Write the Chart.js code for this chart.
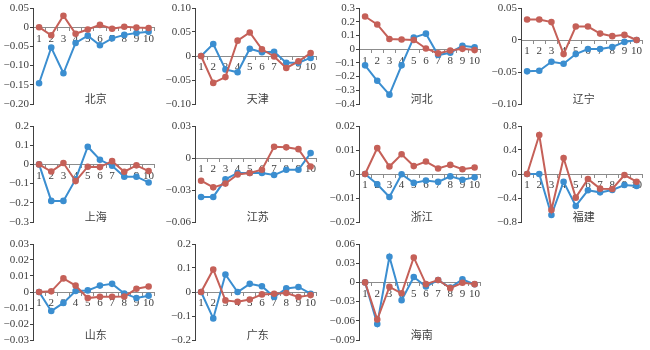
<!DOCTYPE html>
<html><head><meta charset="utf-8">
<script src="https://cdn.jsdelivr.net/npm/chart.js@4.4.1/dist/chart.umd.min.js"></script>
<style>
html,body{margin:0;padding:0;background:#fff;width:650px;height:350px;overflow:hidden;position:relative}
canvas{position:absolute}
</style></head><body>
<script>
const categories = ['1','2','3','4','5','6','7','8','9','10'];
const panelNames = ['北京','天津','河北','辽宁','上海','江苏','浙江','福建','山东','广东','海南'];

const blueBeijing   = [-0.146, -0.053, -0.120, -0.041, -0.022, -0.047, -0.029, -0.020, -0.015, -0.012];
const redBeijing    = [0, -0.021, 0.030, -0.017, -0.006, 0.006, -0.004, 0.001, -0.001, -0.002];
const blueTianjin   = [0, 0.025, -0.028, -0.034, 0.015, 0.008, 0.009, -0.014, -0.014, -0.004];
const redTianjin    = [0, -0.056, -0.044, 0.032, 0.049, 0.014, -0.001, -0.025, -0.011, 0.006];
const blueHebei     = [-0.118, -0.231, -0.332, -0.118, 0.084, 0.113, -0.043, -0.026, 0.024, 0.014];
const redHebei      = [0.238, 0.180, 0.074, 0.070, 0.067, 0.005, -0.031, -0.010, 0.002, -0.007];
const blueLiaoning  = [-0.049, -0.048, -0.034, -0.037, -0.022, -0.014, -0.014, -0.011, -0.003, 0];
const redLiaoning   = [0.032, 0.032, 0.028, -0.022, 0.021, 0.021, 0.010, 0.006, 0.008, 0];
const blueShanghai  = [0, -0.19, -0.19, -0.078, 0.092, 0.024, -0.007, -0.064, -0.064, -0.094];
const redShanghai   = [0, -0.037, 0.007, -0.087, -0.012, -0.014, 0.017, -0.038, -0.005, -0.035];
const blueJiangsu   = [-0.0365, -0.0365, -0.020, -0.014, -0.014, -0.014, -0.016, -0.011, -0.011, 0.0046];
const redJiangsu    = [-0.0213, -0.0275, -0.024, -0.0155, -0.014, -0.011, 0.0105, 0.010, 0.0083, -0.008];
const blueZhejiang  = [0, -0.0043, -0.0096, -0.0001, -0.0037, -0.0027, -0.0033, -0.001, -0.0024, -0.0014];
const redZhejiang   = [0, 0.0108, 0.0031, 0.0082, 0.0033, 0.0052, 0.0023, 0.0038, 0.002, 0.0027];
const blueFujian    = [0, 0, -0.683, -0.128, -0.533, -0.272, -0.306, -0.267, -0.183, -0.2];
const redFujian     = [0, 0.65, -0.60, 0.267, -0.394, -0.083, -0.244, -0.25, -0.017, -0.128];
const blueShandong  = [0, -0.0119, -0.0068, 0.0006, 0.001, 0.004, 0.0051, -0.0009, -0.0038, -0.0023];
const redShandong   = [0, 0.0004, 0.0085, 0.004, -0.0038, -0.003, -0.003, -0.0028, 0.002, 0.0034];
const blueGuangdong = [0, -0.11, 0.073, 0, 0.034, 0.024, -0.021, 0.015, 0.021, -0.007];
const redGuangdong  = [0, 0.094, -0.035, -0.041, -0.031, -0.010, -0.007, -0.004, -0.021, -0.013];
const blueHainan    = [0, -0.065, 0.040, -0.028, 0.0085, -0.0064, 0.0037, -0.008, 0.0048, -0.003];
const redHainan     = [0, -0.058, -0.007, -0.017, 0.039, -0.0027, 0.0037, -0.009, -0.0005, -0.0027];

const yMin = [-0.20, -0.10, -0.4, -0.10, -0.3, -0.06, -0.02, -0.8, -0.03, -0.2, -0.09];
const yMax = [0.05, 0.10, 0.3, 0.05, 0.2, 0.03, 0.02, 0.8, 0.03, 0.2, 0.06];
const yStep = [0.05, 0.05, 0.1, 0.05, 0.1, 0.03, 0.01, 0.4, 0.01, 0.1, 0.03];
const yDecimals = [2, 2, 1, 2, 1, 2, 2, 1, 2, 1, 2];

const blueList = [blueBeijing, blueTianjin, blueHebei, blueLiaoning, blueShanghai, blueJiangsu, blueZhejiang, blueFujian, blueShandong, blueGuangdong, blueHainan];
const redList = [redBeijing, redTianjin, redHebei, redLiaoning, redShanghai, redJiangsu, redZhejiang, redFujian, redShandong, redGuangdong, redHainan];

const BLUE = '#3B8ED0', RED = '#C56058';
const colAxisX = [33.3, 195.3, 358.8, 520.8];
const rowTop = [8, 126, 244];
const AXW = 40, CW = 166, CH = 118, PT = 8, PLOT_H = 96;

const titlePlugin = {
  id: 'panelTitle',
  afterDraw(chart, args, opts) {
    const {ctx, chartArea} = chart;
    ctx.save();
    ctx.font = '11px "Noto Sans CJK SC", sans-serif';
    ctx.fillStyle = '#404040';
    ctx.textAlign = 'center';
    ctx.textBaseline = 'middle';
    ctx.fillText(opts.text, (chartArea.left + chartArea.right) / 2 + 2, chartArea.bottom - 5);
    ctx.restore();
  }
};

function fmt(v, d) {
  if (Math.abs(v) < 1e-9) return '0';
  return (v < 0 ? '\u2212' : '') + Math.abs(v).toFixed(d);
}

panelNames.forEach((name, i) => {
  const col = i % 4, row = Math.floor(i / 4);
  const cv = document.createElement('canvas');
  cv.width = CW; cv.height = CH;
  cv.style.width = CW + 'px'; cv.style.height = CH + 'px';
  cv.style.left = (colAxisX[col] - AXW) + 'px';
  cv.style.top = (rowTop[row] - PT) + 'px';
  document.body.appendChild(cv);
  const serif = {family: '"Liberation Serif", "Times New Roman", serif', size: 11};
  new Chart(cv, {
    type: 'line',
    data: {
      labels: categories,
      datasets: [
        {data: redList[i], borderColor: RED, backgroundColor: RED, borderWidth: 2, pointRadius: 2.3, pointHoverRadius: 2.3, tension: 0},
        {data: blueList[i], borderColor: BLUE, backgroundColor: BLUE, borderWidth: 2, pointRadius: 2.3, pointHoverRadius: 2.3, tension: 0}
      ]
    },
    options: {
      responsive: false,
      animation: false,
      devicePixelRatio: 1,
      layout: {padding: {left: 0, top: PT, right: CW - AXW - 124, bottom: CH - PT - PLOT_H}},
      plugins: {legend: {display: false}, tooltip: {enabled: false}, panelTitle: {text: name}},
      scales: {
        x: {
          type: 'category',
          position: {y: 0},
          offset: true,
          grid: {display: true, drawOnChartArea: false, drawTicks: true, tickLength: 3, tickColor: '#8c8c8c', offset: true},
          border: {display: true, color: '#8c8c8c', width: 1},
          ticks: {autoSkip: false, maxRotation: 0, minRotation: 0, padding: 2, color: '#404040', font: serif}
        },
        y: {
          min: yMin[i], max: yMax[i],
          afterFit(scale) { scale.width = AXW; },
          grid: {display: true, drawOnChartArea: false, drawTicks: true, tickLength: 3, tickColor: '#404040'},
          border: {display: true, color: '#404040', width: 1},
          ticks: {stepSize: yStep[i], autoSkip: false, padding: 1, color: '#404040', font: serif,
                  callback: v => fmt(v, yDecimals[i])}
        }
      }
    },
    plugins: [titlePlugin]
  });
});
</script>
</body></html>
